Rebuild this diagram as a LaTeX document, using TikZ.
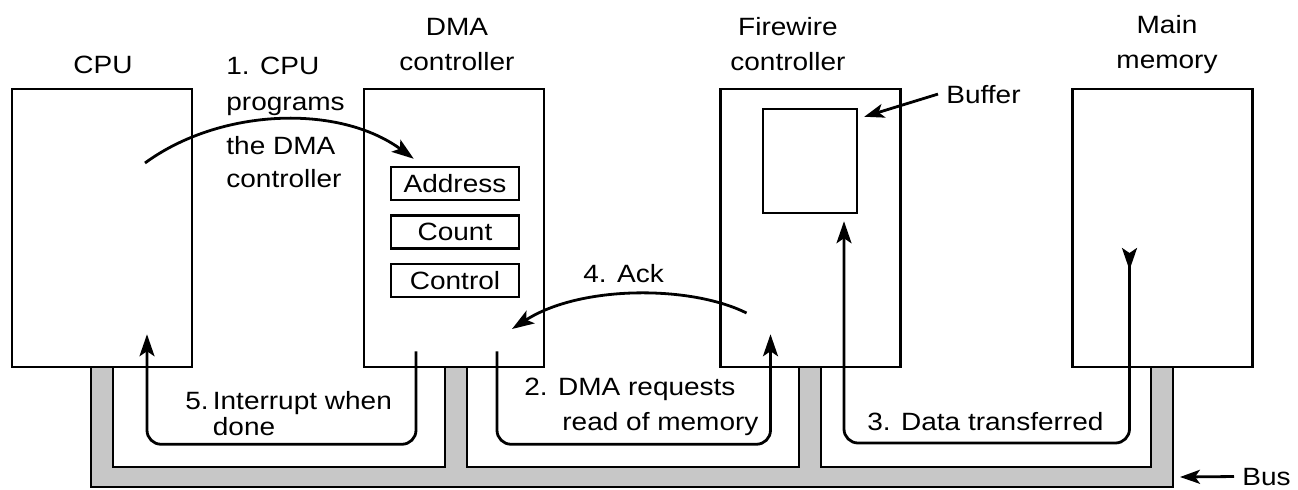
\documentclass[tikz,border=0pt]{standalone}
\usepackage{fontspec}
\setmainfont[FakeStretch=1.12]{Liberation Sans}
\usepackage{tikz}
\usetikzlibrary{arrows.meta, positioning, calc}
\definecolor{busgray}{gray}{0.78}

\begin{document}
\begin{tikzpicture}[x=0.5pt, y=-0.5pt, font=\fontsize{12.5}{17.5}\selectfont]
	\tikzstyle{unit} = [draw, line width=1.25pt, minimum width=90pt, minimum height=139pt, inner sep=0pt]
	\tikzstyle{reg} = [draw, line width=1.25pt, minimum width=64pt, minimum height=16.5pt, inner sep=0pt]
	\tikzstyle{txt} = [inner sep=0pt, anchor=base west]
	\tikzstyle{title} = [inner sep=0pt, anchor=base, align=center]
	\tikzstyle{flow} = [line width=1.4pt, rounded corners=7pt, -{Stealth[length=11pt, width=7.5pt, inset=2.5pt]}]
	\tikzstyle{pointer} = [line width=1.4pt, -{Stealth[length=10pt, width=7pt, inset=2.5pt]}]

	\useasboundingbox (0,0) rectangle (1298,489);

	% Bus
	\filldraw [fill=busgray, line width=1.25pt]
		(91,367) -- (91,487) -- (1173,487) -- (1173,367) -- (1151,367) -- (1151,467)
		-- (821,467) -- (821,367) -- (799,367) -- (799,467) -- (467,467) -- (467,367)
		-- (445,367) -- (445,467) -- (113,467) -- (113,367) -- cycle;
	\coordinate (busedge) at (1180,477);

	% Units
	\node (cpu) [unit] at (102,228) {};
	\node (dma) [unit] at (454,228) {};
	\node (fw) [unit] at (810.5,228) {};
	\node (mem) [unit] at (1162.5,228) {};

	\node (cputitle) [title] at (103,73) {CPU};
	\node (dmatitle) [title] at (457,70) {DMA\\controller};
	\node (fwtitle) [title] at (788,70) {Firewire\\controller};
	\node (memtitle) [title] at (1167,68) {Main\\memory};

	% DMA registers
	\node (addr) [reg] at (455,183.5) {Address};
	\node (count) [reg, below=6.5pt of addr] {Count};
	\node (ctrl) [reg, below=6.5pt of count] {Control};

	% Buffer
	\node (buf) [draw, line width=1.25pt, minimum width=47pt, minimum height=52pt, inner sep=0pt] at (810,161) {};
	\node (buflabel) [txt] at (946,103) {Buffer};
	\coordinate (bufcorner) at ($(buf.north east)+(6,9)$);
	\draw [pointer] ([xshift=-4pt]buflabel.west) -- (bufcorner);

	\node (bus) [txt] at (1242,485) {Bus};
	\draw [pointer] ([xshift=-4pt]bus.west) -- (busedge);

	% Arrow ends
	\coordinate (cpuout) at ($(cpu.center)+(43,-65)$);
	\coordinate (addrin) at ($(addr.north west)+(24,-7)$);
	\coordinate (dmareq) at ($(dma.south)+(43,-17)$);
	\coordinate (fwreq) at ($(fw.south)+(-40,-34)$);
	\coordinate (memout) at ($(mem.center)+(-33,20)$);
	\coordinate (bufin) at ($(buf.south)+(34,7)$);
	\coordinate (fwack) at ($(fw.center)+(-64,85)$);
	\coordinate (dmaack) at ($(dma.center)+(58,101)$);
	\coordinate (dmairq) at ($(dma.south)+(-38,-17)$);
	\coordinate (cpuin) at ($(cpu.south)+(45,-34)$);

	% Steps
	\draw [flow] (cpuout) .. controls +(75,-55) and +(-75,-55) .. (addrin);
	\draw [flow] (dmareq) -- ++(0,93) -| (fwreq);
	\draw [flow, {Stealth[length=11pt, width=7.5pt, inset=2.5pt, reversed]}-{Stealth[length=11pt, width=7.5pt, inset=2.5pt]}]
		(memout) -- ++(0,195) -| (bufin);
	\draw [flow] (fwack) .. controls +(-56,-28) and +(68,-44) .. (dmaack);
	\draw [flow] (dmairq) -- ++(0,93) -| (cpuin);

	\node (step1) [txt, align=left] at (226,187) {1. CPU\\[0.5pt]programs\\[4.5pt]the DMA\\[-1pt]controller};
	\node (step2) [txt, align=left] at (524,430) {2. DMA requests\\\hspace*{19pt}read of memory};
	\node (step3) [txt] at (867,430) {3. Data transferred};
	\node (step4) [txt] at (583,282) {4. Ack};
	\node (step5) [txt, align=left, font=\fontsize{12.5}{11.5}\selectfont] at (185,435) {5.\,Interrupt when\\\phantom{5.\,}done};
\end{tikzpicture}
\end{document}
